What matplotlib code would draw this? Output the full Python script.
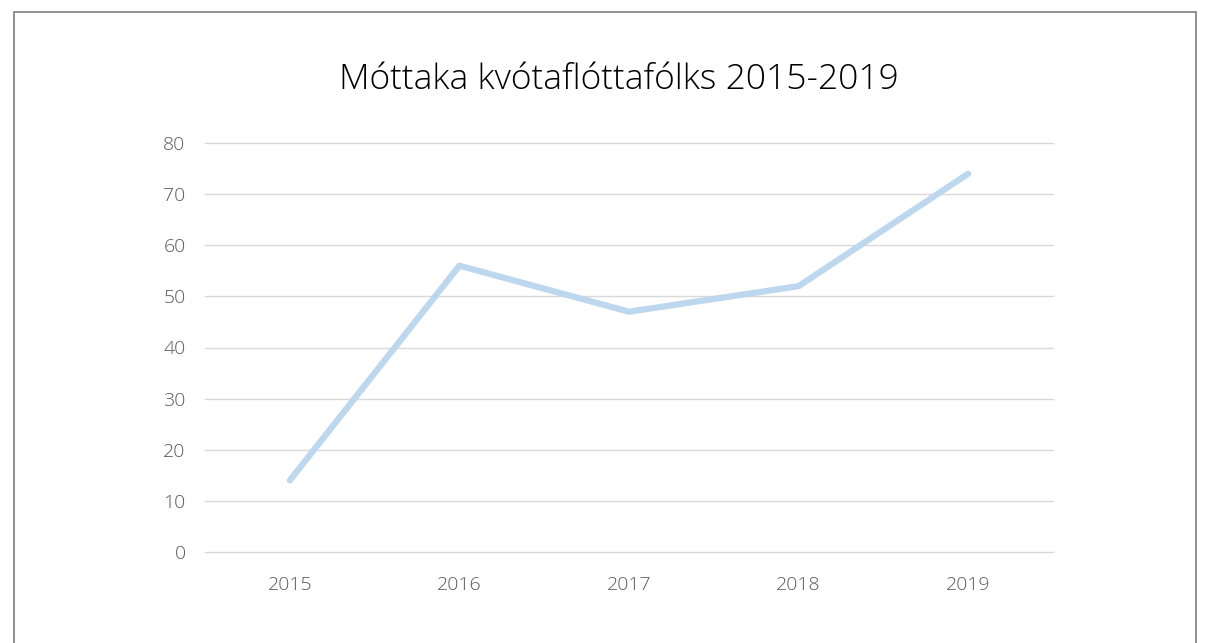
import matplotlib.pyplot as plt
from matplotlib.patches import Rectangle

# Data
years = ["2015", "2016", "2017", "2018", "2019"]
refugees = [14, 56, 47, 52, 74]
y_ticks = [0, 10, 20, 30, 40, 50, 60, 70, 80]

plt.rcParams['font.family'] = ['Open Sans', 'DejaVu Sans']

fig = plt.figure(figsize=(12.10, 6.43), dpi=100)
ax = fig.add_axes([205 / 1210, 1 - 552 / 643, 848 / 1210, 409 / 643])

x = range(len(years))
ax.plot(x, refugees, color='#bdd7ee', linewidth=4.5, solid_capstyle='round',
        solid_joinstyle='round', zorder=3)

ax.set_xlim(-0.5, len(years) - 0.5)
ax.set_ylim(0, 80)
ax.set_yticks(y_ticks)
ax.set_xticks(list(x))
ax.set_xticklabels(years)
ax.grid(axis='y', color='#d9d9d9', linewidth=1)
for gl in ax.get_ygridlines():
    gl.set_clip_on(False)
ax.set_axisbelow(True)
for s in ax.spines.values():
    s.set_visible(False)
ax.tick_params(length=0, colors='#595959', labelsize=14)
ax.tick_params(axis='y', pad=14)
ax.tick_params(axis='x', pad=17)
for lbl in ax.get_xticklabels() + ax.get_yticklabels():
    lbl.set_fontweight('light')

fig.text(619 / 1210, 1 - 80 / 643, "Móttaka kvótaflóttafólks 2015-2019",
         ha='center', va='center', fontsize=25.5, fontweight='light', color='#000000')

# outer frame
fig.patches.append(Rectangle((14 / 1210, -0.1), (1196 - 14) / 1210, 1.1 - 12 / 643,
                             transform=fig.transFigure, fill=False,
                             edgecolor='#7f7f7f', linewidth=1.2))

fig.savefig("out.png", dpi=100)
